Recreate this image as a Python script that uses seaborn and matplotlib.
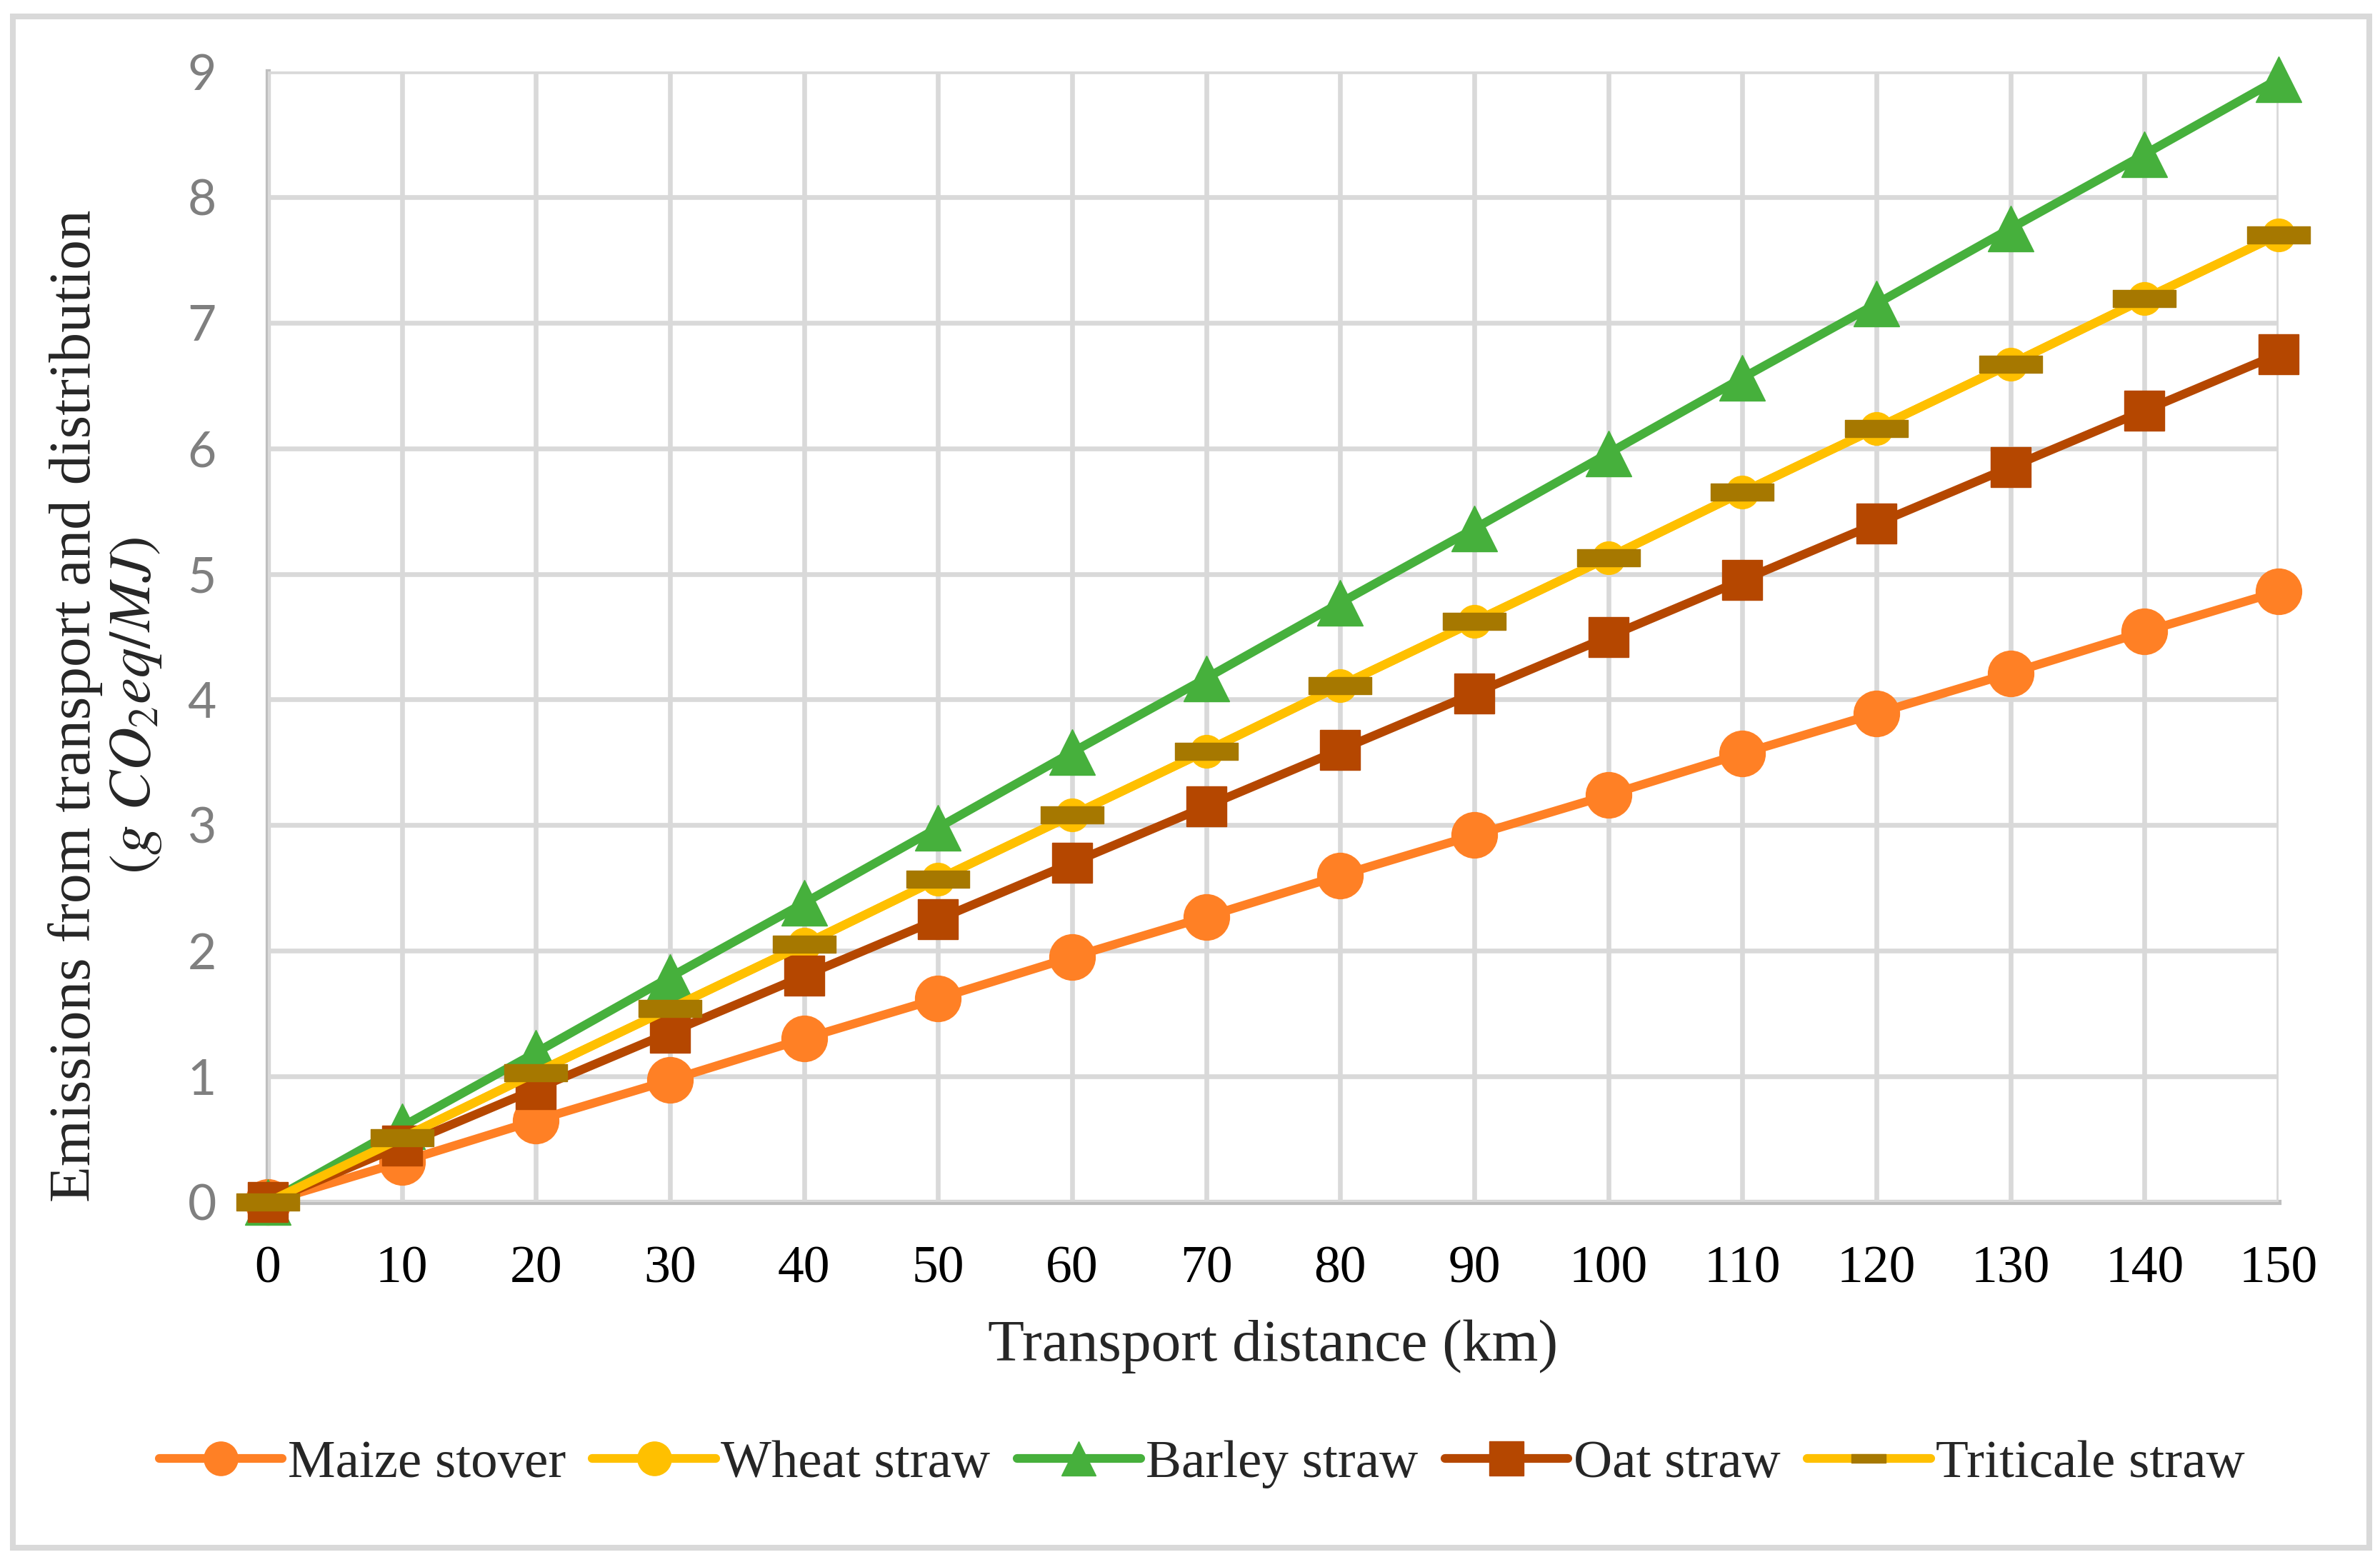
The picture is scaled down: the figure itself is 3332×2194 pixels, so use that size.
import matplotlib
matplotlib.use("Agg")
import matplotlib.pyplot as plt
from matplotlib.path import Path
from matplotlib.patches import Rectangle
import seaborn as sns
import pandas as pd

# data
distance = [0, 10, 20, 30, 40, 50, 60, 70, 80, 90, 100, 110, 120, 130, 140, 150]
maize_stover = [0, 0.32, 0.65, 0.97, 1.30, 1.62, 1.95, 2.27, 2.60, 2.92, 3.24, 3.57, 3.89, 4.21, 4.54, 4.86]
wheat_straw = [0, 0.51, 1.03, 1.54, 2.05, 2.57, 3.08, 3.59, 4.11, 4.62, 5.13, 5.65, 6.16, 6.67, 7.19, 7.70]
barley_straw = [0, 0.60, 1.19, 1.79, 2.38, 2.98, 3.58, 4.17, 4.77, 5.36, 5.96, 6.56, 7.15, 7.75, 8.34, 8.94]
oat_straw = [0, 0.45, 0.90, 1.35, 1.80, 2.25, 2.70, 3.15, 3.60, 4.05, 4.50, 4.95, 5.40, 5.85, 6.30, 6.75]
triticale_straw = [0, 0.51, 1.03, 1.54, 2.05, 2.57, 3.08, 3.59, 4.11, 4.62, 5.13, 5.65, 6.16, 6.67, 7.19, 7.70]

sns.set_style("white")
plt.rcParams["font.family"] = ["Liberation Serif", "DejaVu Serif"]
plt.rcParams["mathtext.fontset"] = "stix"

# flat dash marker used for triticale
dash = Path([(-0.5, -0.13), (0.5, -0.13), (0.5, 0.13), (-0.5, 0.13), (-0.5, -0.13)], closed=True)

series = [
    ("Maize stover", maize_stover, "#FF8025", "o", 23),
    ("Wheat straw", wheat_straw, "#FFC000", "o", 16.5),
    ("Barley straw", barley_straw, "#46B03C", "^", 23),
    ("Oat straw", oat_straw, "#B54700", "s", 20),
    ("Triticale straw", triticale_straw, "#FFC000", dash, 32),
]

W, H, DPI = 3332, 2194, 200
fig = plt.figure(figsize=(W / DPI, H / DPI), dpi=DPI)
ax = fig.add_axes([375 / W, 1 - 1683 / H, (3190 - 375) / W, (1683 - 100) / H])

for name, vals, col, mk, ms in series:
    df = pd.DataFrame({"x": distance, "y": vals})
    mfc = "#A67800" if name == "Triticale straw" else col
    sns.lineplot(data=df, x="x", y="y", ax=ax, color=col, linewidth=4.4,
                 marker=mk, markersize=ms, markerfacecolor=mfc,
                 markeredgecolor=mfc, markeredgewidth=0.5,
                 label=name, errorbar=None, clip_on=False)

ax.set_xlim(0, 150)
ax.set_ylim(0, 9)
ax.set_xticks(distance)
ax.set_yticks(range(10))
ax.grid(True, color="#D9D9D9", linewidth=2.4)
ax.set_axisbelow(True)
for s in ["top", "right"]:
    ax.spines[s].set_visible(False)
for s in ["left", "bottom"]:
    ax.spines[s].set_color("#BFBFBF")
    ax.spines[s].set_linewidth(2.6)
    ax.spines[s].set_zorder(0.5)

ax.tick_params(axis="x", length=0, pad=22, labelsize=26.5, labelcolor="black")
ax.tick_params(axis="y", length=0, pad=26, labelsize=25, labelcolor="#7F7F7F")
for t in ax.get_yticklabels():
    t.set_fontfamily("Lato")

ax.set_xlabel("Transport distance (km)", fontsize=30, labelpad=0)
ax.xaxis.set_label_coords(0.5, -(1885 - 1683) / (1683 - 100))
ax.xaxis.label.set_va("center")
ax.set_ylabel("Emissions from transport and distribution\n$(g\\ CO_2eq/MJ)$",
              fontsize=30, linespacing=1.15)
ax.yaxis.label.set_va("center")
ax.yaxis.set_label_coords((148 - 375) / (3190 - 375), (1683 - 988) / (1683 - 100))

leg = ax.legend(loc="center", bbox_to_anchor=(0.505, 1 - 2050 / H), bbox_transform=fig.transFigure,
                ncol=5, frameon=False, fontsize=27, handlelength=2.3,
                handletextpad=0.1, columnspacing=0.5)
for h in leg.legend_handles:
    h.set_markersize(17)

# light grey chart border
fig.patches.append(Rectangle((18 / W, 1 - 2167 / H), (3317 - 18) / W, (2167 - 23) / H,
                             transform=fig.transFigure, fill=False,
                             edgecolor="#D9D9D9", linewidth=2.9))

fig.savefig("out.png", dpi=DPI)
